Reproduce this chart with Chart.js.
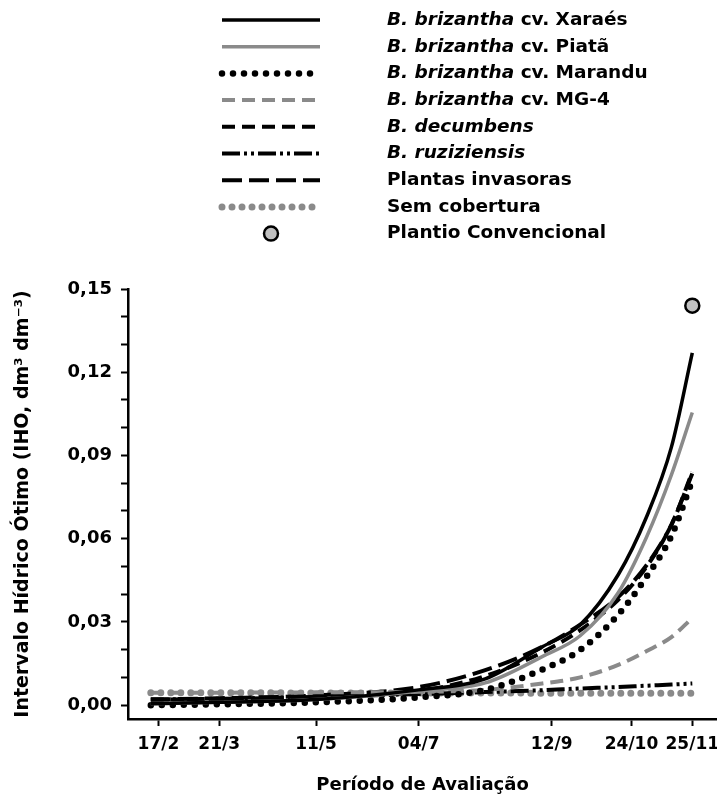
<!DOCTYPE html>
<html lang="pt">
  <head>
    <meta charset="UTF-8" />
    <title>IHO</title>
    <style>
      body { margin: 0; background: #fff; }
    </style>
  </head>
  <body>
    <canvas id="chart" width="717" height="800"></canvas>
    <script src="https://cdn.jsdelivr.net/npm/chart.js"></script>
    <script>
      // day of year for each sample
      const sampleDays = [44, 80, 131, 185, 220, 250, 270, 290, 305, 318, 329];

      const xaraes = [0.0005, 0.001, 0.002, 0.0055, 0.0095, 0.021, 0.029, 0.047, 0.068, 0.093, 0.127];
      const piata = [0.0005, 0.001, 0.002, 0.005, 0.008, 0.0175, 0.025, 0.0405, 0.0607, 0.083, 0.1055];
      const marandu = [0.0, 0.0003, 0.001, 0.0028, 0.0055, 0.0128, 0.0199, 0.0326, 0.0464, 0.061, 0.081];
      const mg4 = [0.0045, 0.0045, 0.0046, 0.0048, 0.0055, 0.0078, 0.01, 0.0145, 0.0195, 0.0245, 0.0314];
      const decumbens = [0.002, 0.0022, 0.003, 0.005, 0.0105, 0.019, 0.027, 0.038, 0.05, 0.065, 0.084];
      const ruziziensis = [0.002, 0.0023, 0.003, 0.004, 0.0047, 0.0054, 0.006, 0.0065, 0.007, 0.0074, 0.0078];
      const invasoras = [0.002, 0.0025, 0.0035, 0.0065, 0.0126, 0.021, 0.029, 0.039, 0.0505, 0.065, 0.0835];
      const semCobertura = [0.0045, 0.0045, 0.0044, 0.0044, 0.0044, 0.0043, 0.0043, 0.0043, 0.0043, 0.0043, 0.0043];

      const convencionalDay = [329];
      const convencional = [0.144];

      const tickDays = [48, 80, 131, 185, 255, 297, 329];
      const tickLabels = ["17/2", "21/3", "11/5", "04/7", "12/9", "24/10", "25/11"];

      const legendItalic = ["B. brizantha", "B. brizantha", "B. brizantha", "B. brizantha", "B. decumbens", "B. ruziziensis", "", "", ""];
      const legendRest = [" cv. Xaraés", " cv. Piatã", " cv. Marandu", " cv. MG-4", "", "", "Plantas invasoras", "Sem cobertura", "Plantio Convencional"];

      const FONT = '"DejaVu Sans", sans-serif';
      const GRAY = "#8a8a8a";

      const toPoints = (ys) => ys.map((y, i) => ({ x: sampleDays[i], y: y }));

      function curve(values, color, width, dash, cap) {
        return {
          data: toPoints(values),
          borderColor: color,
          backgroundColor: color,
          borderWidth: width,
          borderDash: dash,
          borderCapStyle: cap || "butt",
          pointRadius: 0,
          cubicInterpolationMode: "monotone",
          fill: false,
        };
      }

      const datasets = [
        curve(xaraes, "#000", 3.5, []),
        curve(piata, GRAY, 3.5, []),
        curve(marandu, "#000", 6.5, [0, 11], "round"),
        curve(mg4, GRAY, 4, [13, 7]),
        curve(decumbens, "#000", 4, [13, 7]),
        curve(ruziziensis, "#000", 4, [18, 4, 3, 4, 3, 4]),
        curve(invasoras, "#000", 4, [20, 7]),
        curve(semCobertura, GRAY, 7, [0, 10], "round"),
        {
          data: convencional.map((y, i) => ({ x: convencionalDay[i], y: y })),
          showLine: false,
          pointRadius: 7,
          pointBorderWidth: 2.5,
          pointBackgroundColor: "#c0c0c0",
          pointBorderColor: "#000",
        },
      ];

      // legend drawn by hand: the labels mix italic and upright text
      const legendPlugin = {
        id: "mixedLegend",
        afterDraw(chart) {
          const ctx = chart.ctx;
          chart.data.datasets.forEach((ds, i) => {
            const y = 20 + i * 26.7;
            ctx.save();
            if (ds.showLine === false) {
              ctx.beginPath();
              ctx.arc(271, y, ds.pointRadius, 0, Math.PI * 2);
              ctx.fillStyle = ds.pointBackgroundColor;
              ctx.fill();
              ctx.lineWidth = ds.pointBorderWidth;
              ctx.strokeStyle = ds.pointBorderColor;
              ctx.stroke();
            } else {
              ctx.beginPath();
              ctx.moveTo(222, y);
              ctx.lineTo(320, y);
              ctx.strokeStyle = ds.borderColor;
              ctx.lineWidth = ds.borderWidth;
              ctx.lineCap = ds.borderCapStyle;
              ctx.setLineDash(ds.borderDash);
              ctx.stroke();
            }
            ctx.fillStyle = "#000";
            ctx.textBaseline = "middle";
            let x = 387;
            if (legendItalic[i]) {
              ctx.font = "italic bold 18.5px " + FONT;
              ctx.fillText(legendItalic[i], x, y);
              x += ctx.measureText(legendItalic[i]).width;
            }
            ctx.font = "bold 18.5px " + FONT;
            ctx.fillText(legendRest[i], x, y);
            ctx.restore();
          });
        },
      };

      new Chart(document.getElementById("chart"), {
        type: "line",
        data: { datasets: datasets },
        plugins: [legendPlugin],
        options: {
          responsive: false,
          animation: false,
          events: [],
          layout: { autoPadding: false, padding: { top: 289, left: 12, right: 0, bottom: 0 } },
          plugins: { legend: { display: false }, tooltip: { enabled: false } },
          scales: {
            x: {
              type: "linear",
              min: 32,
              max: 342,
              afterBuildTicks: (scale) => {
                scale.ticks = tickDays.map((v) => ({ value: v }));
              },
              afterFit: (scale) => {
                scale.height = 81;
                scale.paddingRight = 0;
                scale.paddingLeft = 0;
              },
              ticks: {
                autoSkip: false,
                maxRotation: 0,
                padding: 8,
                color: "#000",
                font: { family: FONT, size: 17, weight: "bold" },
                callback: (value, index) => tickLabels[index],
              },
              grid: { drawOnChartArea: false, drawTicks: true, tickLength: 7, tickWidth: 2, color: "#000" },
              border: { color: "#000", width: 2.5 },
              title: {
                display: true,
                text: "Período de Avaliação",
                color: "#000",
                font: { family: FONT, size: 18, weight: "bold" },
                padding: { top: 0, bottom: 4 },
              },
            },
            y: {
              min: -0.005,
              max: 0.15,
              afterBuildTicks: (scale) => {
                const ticks = [];
                for (let i = 0; i <= 15; i++) ticks.push({ value: i / 100 });
                scale.ticks = ticks;
              },
              afterFit: (scale) => {
                scale.width = 116;
                scale.paddingTop = 0;
              },
              ticks: {
                autoSkip: false,
                padding: 9,
                color: "#000",
                font: { family: FONT, size: 18, weight: "bold" },
                callback: (value, index) => (index % 3 === 0 ? value.toFixed(2).replace(".", ",") : ""),
              },
              grid: { drawOnChartArea: false, drawTicks: true, tickLength: 7, tickWidth: 2, color: "#000" },
              border: { color: "#000", width: 2.5 },
              title: {
                display: true,
                text: "Intervalo Hídrico Ótimo (IHO, dm³ dm⁻³)",
                color: "#000",
                font: { family: FONT, size: 19, weight: "bold" },
                padding: { top: 0, bottom: 0 },
              },
            },
          },
        },
      });
    </script>
  </body>
</html>
